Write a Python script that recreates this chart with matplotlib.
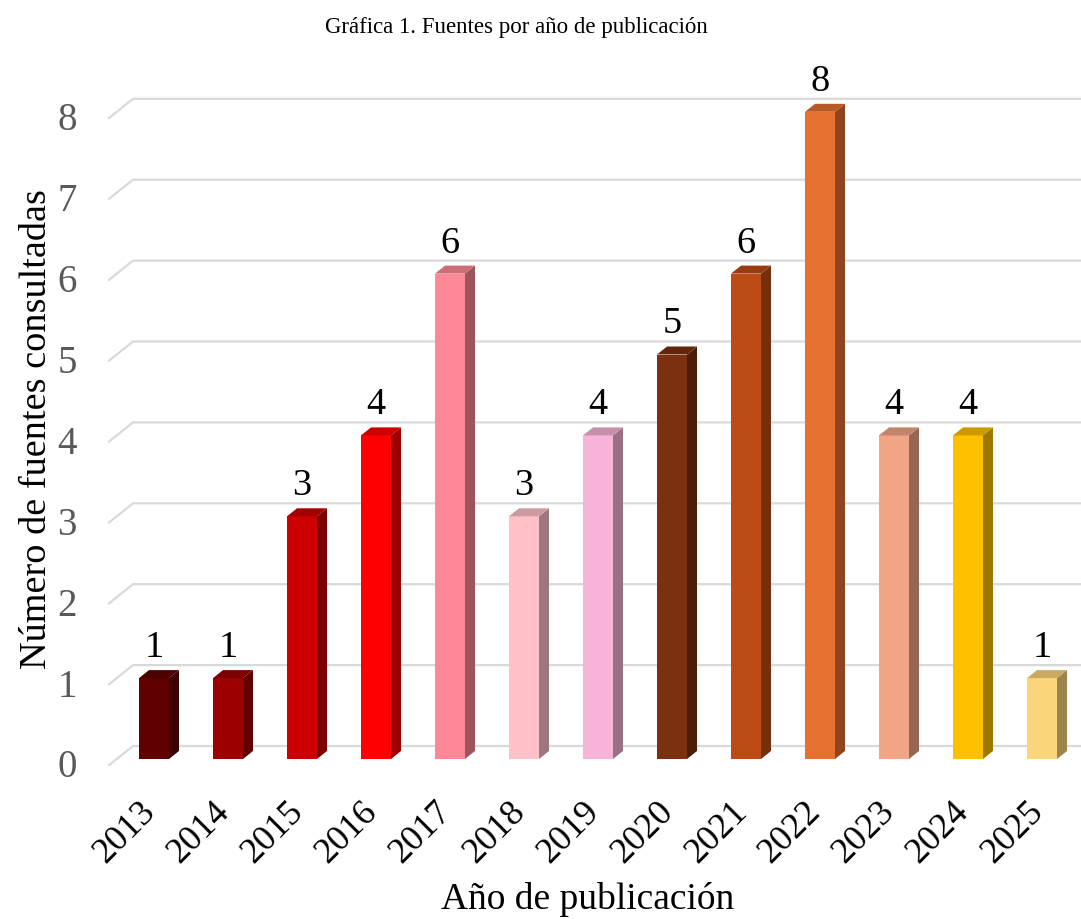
import matplotlib
matplotlib.use("Agg")
import matplotlib.pyplot as plt
from matplotlib.patches import Polygon
import matplotlib.colors as mcolors
import numpy as np

# ---- data ----
years = ['2013', '2014', '2015', '2016', '2017', '2018', '2019',
         '2020', '2021', '2022', '2023', '2024', '2025']
counts = [1, 1, 3, 4, 6, 3, 4, 5, 6, 8, 4, 4, 1]
bar_colors = ['#600000', '#9c0000', '#cc0000', '#ff0000', '#ff8896', '#ffc0c8',
              '#f8b4d8', '#7b3010', '#bd4b15', '#e57030', '#f2a585', '#ffc000',
              '#fbd57a']
yticks = [0, 1, 2, 3, 4, 5, 6, 7, 8]
title = 'Gráfica 1. Fuentes por año de publicación'
xlabel = 'Año de publicación'
ylabel = 'Número de fuentes consultadas'

plt.rcParams['font.family'] = ['Liberation Serif', 'DejaVu Serif']

W, H = 1081, 920
fig = plt.figure(figsize=(W / 100, H / 100), dpi=100)

# pixel geometry of the plot area
px_x0 = 154.0      # centre of first bar
px_dx = 74.0       # spacing per category
px_y0 = 760.0      # value 0 at bar fronts
px_dy = 80.9       # pixels per unit
ax_left_px, ax_right_px = 108, 1081
ax_bottom_px, ax_top_px = 767, 80

def px2x(p):
    return (p - px_x0) / px_dx

def px2y(p):
    return (px_y0 - p) / px_dy

ax = fig.add_axes([ax_left_px / W, 1 - ax_bottom_px / H,
                   (ax_right_px - ax_left_px) / W, (ax_bottom_px - ax_top_px) / H])
ax.set_xlim(px2x(ax_left_px), px2x(ax_right_px))
ax.set_ylim(px2y(ax_bottom_px), px2y(ax_top_px))
for s in ax.spines.values():
    s.set_visible(False)
ax.set_xticks([])
ax.set_yticks([])

# depth offsets (data units)
floor_dx = 25 / px_dx
floor_dy = 20 / px_dy
front_y = px2y(767)           # front edge of the floor
back_x = px2x(ax_left_px) + floor_dx
bar_ddx = 10 / px_dx
bar_ddy = 8 / px_dy
bar_w = 30 / px_dx

grid_c = '#d9d9d9'
xmax = px2x(ax_right_px)
for v in yticks:
    ax.plot([px2x(ax_left_px), back_x, xmax],
            [v + front_y, v + front_y + floor_dy, v + front_y + floor_dy],
            color=grid_c, lw=1.6, zorder=1, solid_capstyle='butt')
    ax.text(px2x(67), v + front_y - 1 / px_dy, str(v), ha='center', va='center',
            fontsize=28, color='#595959', clip_on=False)

def shade(c, f):
    r, g, b = mcolors.to_rgb(c)
    return (r * f, g * f, b * f)

x = np.arange(len(years))
for xi, v, c in zip(x, counts, bar_colors):
    ax.bar(xi, v, width=bar_w, bottom=0, color=c, zorder=3, linewidth=0)
    xr = xi + bar_w / 2
    xl = xi - bar_w / 2
    side = Polygon([(xr, 0), (xr + bar_ddx, bar_ddy), (xr + bar_ddx, v + bar_ddy), (xr, v)],
                   closed=True, facecolor=shade(c, 0.62), edgecolor='none', zorder=3)
    top = Polygon([(xl, v), (xr, v), (xr + bar_ddx, v + bar_ddy), (xl + bar_ddx, v + bar_ddy)],
                  closed=True, facecolor=shade(c, 0.8), edgecolor='none', zorder=3)
    ax.add_patch(side)
    ax.add_patch(top)
    ax.text(xi, v + bar_ddy + 14 / px_dy, str(v), ha='center', va='baseline',
            fontsize=27.5, color='black', zorder=4)
    ax.text(xi - 4 / px_dx, px2y(807), years[xi], rotation=45, ha='right', va='center',
            rotation_mode='anchor', fontsize=26, color='black', clip_on=False)

fig.text(516 / W, 1 - 27 / H, title, ha='center', va='center', fontsize=16.5, color='black')
fig.text(588 / W, 1 - 900 / H, xlabel, ha='center', va='center', fontsize=27, color='black')
fig.text(37 / W, 1 - 429 / H, ylabel, ha='center', va='center', rotation=90,
         fontsize=27.5, color='black')

fig.savefig('out.png', dpi=100, facecolor='white')
